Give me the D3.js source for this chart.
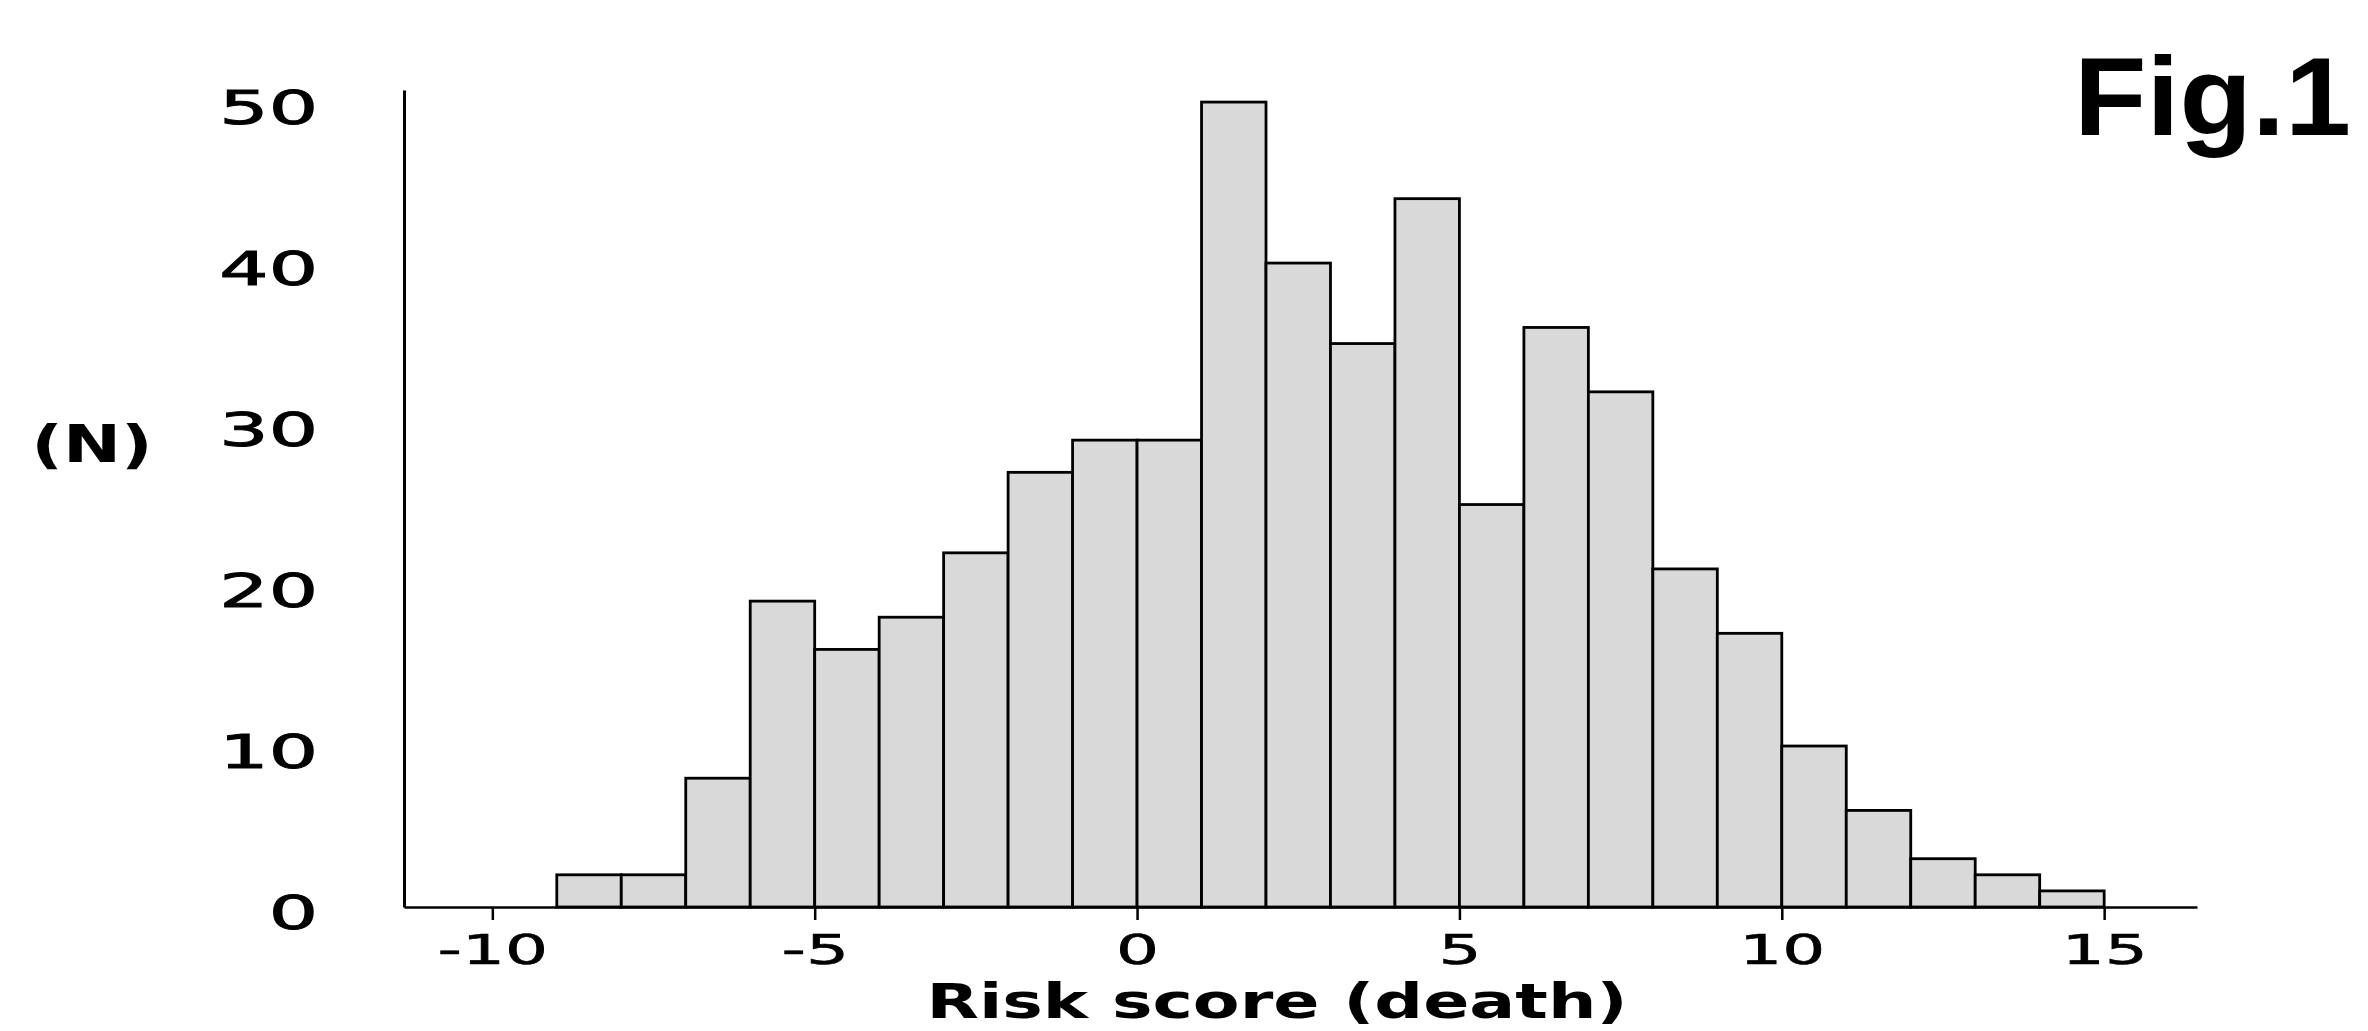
<!DOCTYPE html>
<html>
<head>
<meta charset="utf-8">
<script src="https://cdn.jsdelivr.net/npm/d3@7"></script>
<style>
  html, body { margin: 0; padding: 0; background: #fff; }
  svg { display: block; }
</style>
</head>
<body>
<svg id="chart" width="2368" height="1031"></svg>
<script>
// Histogram of the death risk score: lower edge of each unit-wide bin and its count
const binStart = [-9, -8, -7, -6, -5, -4, -3, -2, -1, 0, 1, 2, 3, 4, 5, 6, 7, 8, 9, 10, 11, 12, 13, 14];
const counts   = [ 2,  2,  8, 19, 16, 18, 22, 27, 29, 29, 50, 40, 35, 44, 25, 36, 32, 21, 17, 10,  6,  3,  2,  1];
const binWidth = 1;

const xTicks = [-10, -5, 0, 5, 10, 15];
const yTicks = [0, 10, 20, 30, 40, 50];

const xTitle = "Risk score (death)";
const yTitle = "(N)";
const figLabel = "Fig.1";

const svg = d3.select("#chart");
svg.append("rect").attr("width", 2368).attr("height", 1031).attr("fill", "#fff");

const x = d3.scaleLinear().domain([-11.37, 16.44]).range([404, 2197]);
const y = d3.scaleLinear().domain([0, 50.75]).range([907, 90]);

const bins = binStart.map((b, i) => ({ x0: b, x1: b + binWidth, n: counts[i] }));

// bars
svg.append("g")
  .selectAll("rect")
  .data(bins)
  .join("rect")
  .attr("x", d => x(d.x0))
  .attr("width", d => x(d.x1) - x(d.x0))
  .attr("y", d => y(d.n))
  .attr("height", d => y(0) - y(d.n))
  .attr("fill", "#d9d9d9")
  .attr("stroke", "#000")
  .attr("stroke-width", 2.8);

// x axis
const gx = svg.append("g")
  .attr("transform", `translate(0,${y(0)})`)
  .call(d3.axisBottom(x).tickValues(xTicks).tickSize(13).tickSizeOuter(0)
    .tickFormat(d => d < 0 ? "-" + Math.abs(d) : String(d)));
gx.select(".domain").attr("stroke", "#000").attr("stroke-width", 2.5);
gx.selectAll(".tick line").attr("stroke", "#000").attr("stroke-width", 2.5);
gx.selectAll(".tick text")
  .attr("y", 0).attr("dy", 0)
  .attr("transform", "translate(0,57) scale(1.65,1)")
  .attr("font-family", "'DejaVu Sans', Verdana, sans-serif")
  .attr("font-size", 41)
  .attr("fill", "#000")
  .attr("stroke", "#000")
  .attr("stroke-width", 0.6);

// y axis
const gy = svg.append("g")
  .attr("transform", `translate(${x.range()[0]},0)`)
  .call(d3.axisLeft(y).tickValues(yTicks).tickSize(0).tickSizeOuter(0));
gy.select(".domain").attr("stroke", "#000").attr("stroke-width", 3);
gy.selectAll(".tick text")
  .attr("x", 0).attr("dy", 0)
  .attr("transform", "translate(-86,21) scale(1.65,1)")
  .attr("text-anchor", "end")
  .attr("font-family", "'DejaVu Sans', Verdana, sans-serif")
  .attr("font-size", 47)
  .attr("fill", "#000")
  .attr("stroke", "#000")
  .attr("stroke-width", 1);

// axis titles
svg.append("text")
  .attr("transform", "translate(1277,1018) scale(1.42,1)")
  .attr("text-anchor", "middle")
  .attr("font-family", "'DejaVu Sans', Verdana, sans-serif")
  .attr("font-weight", "bold")
  .attr("font-size", 48)
  .attr("fill", "#000")
  .text(xTitle);

svg.append("text")
  .attr("transform", "translate(92,462) scale(1.36,1)")
  .attr("text-anchor", "middle")
  .attr("font-family", "'DejaVu Sans', Verdana, sans-serif")
  .attr("font-weight", "bold")
  .attr("font-size", 51)
  .attr("fill", "#000")
  .text(yTitle);

// figure label
svg.append("text")
  .attr("transform", "translate(2074,135) scale(1.06,1)")
  .attr("font-family", "'Liberation Sans', Arial, sans-serif")
  .attr("font-weight", "bold")
  .attr("font-size", 112)
  .attr("fill", "#000")
  .text(figLabel);
</script>
</body>
</html>
